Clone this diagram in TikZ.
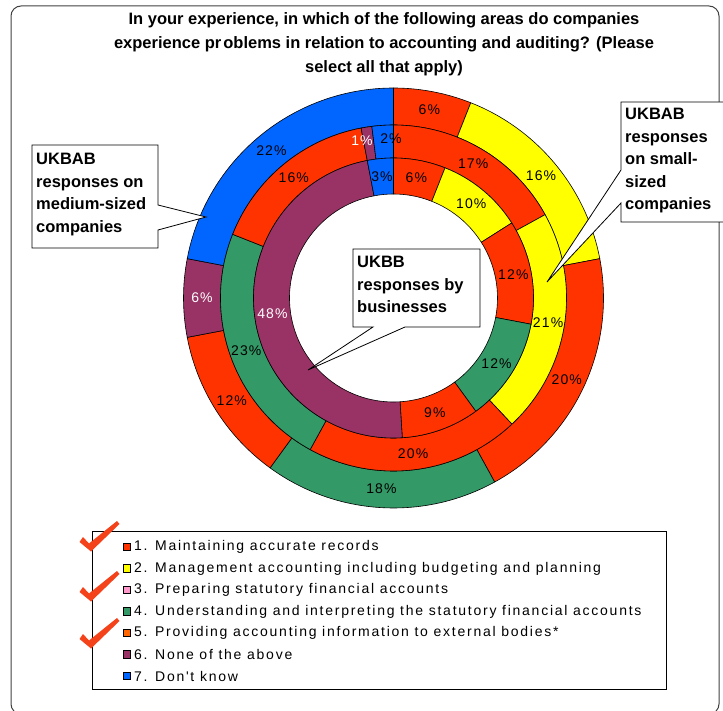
\documentclass[tikz,border=0pt]{standalone}
\usepackage{fontspec}
\setmainfont{Liberation Sans}
\newfontfamily\legfont[LetterSpace=12.5]{Liberation Sans}
\newfontfamily\pctfont[LetterSpace=8]{Liberation Sans}
\begin{document}
\begin{tikzpicture}[x=1pt,y=-1pt]
\definecolor{cRed}{HTML}{FF3300}
\definecolor{cYel}{HTML}{FFFF00}
\definecolor{cPink}{HTML}{FF99CC}
\definecolor{cGrn}{HTML}{339966}
\definecolor{cOrg}{HTML}{FF6600}
\definecolor{cPur}{HTML}{993366}
\definecolor{cBlu}{HTML}{0066FF}
\definecolor{cTick}{HTML}{F4431A}
\tikzset{
  seg/.style={draw=black, line width=0.6pt, line join=round},
  pct/.style={font=\pctfont\fontsize{14}{14}\selectfont, inner sep=0pt},
  callout/.style={fill=white, draw=black, line width=0.8pt, line join=miter},
  callouttext/.style={font=\bfseries\fontsize{16.5}{22.5}\selectfont, align=left, anchor=north west, inner sep=0pt},
  legtext/.style={font=\legfont\fontsize{14}{14}\selectfont, anchor=west, inner sep=0pt},
  legkey/.style={draw=black, line width=0.6pt, minimum size=7.5pt, inner sep=0pt},
  tickmark/.pic={\fill[cTick] (-7,-11) -- (-1,-4.5) -- (27,-27) -- (29.5,-24) -- (1,3.5) -- (-10.5,-6) -- cycle;},
}
% one slice of a ring: colour, inner radius, outer radius, start %, end %
\newcommand\ringpart[5]{%
  \filldraw[seg, fill=#1] ({#4*3.6-90}:#3) arc[start angle={#4*3.6-90}, end angle={#5*3.6-90}, radius=#3]
    -- ({#5*3.6-90}:#2) arc[start angle={#5*3.6-90}, end angle={#4*3.6-90}, radius=#2] -- cycle;}

\useasboundingbox (0,0) rectangle (723,711);
\begin{scope}
\clip (0,0) rectangle (723,711);
\draw[line width=1pt, draw=black!75, rounded corners=10pt] (11,6) rectangle (719,714);

% title
\node[font=\bfseries\fontsize{16.5}{24}\selectfont, align=center, inner sep=0pt] (title) at (384,44)
  {In your experience, in which of the following areas do companies\\
   experience pr\kern2pt oblems in relation to accounting and auditing? (Please\\
   select all that apply)};

% the three rings
\begin{scope}[shift={(393.5,298)}]
  % outer ring: medium-sized companies
  \foreach \c/\a/\b in {cRed/0/6, cYel/6/22, cRed/22/42, cGrn/42/60, cRed/60/72, cPur/72/78, cBlu/78/100}
    {\ringpart{\c}{173}{210}{\a}{\b}}
  % middle ring: small-sized companies
  \foreach \c/\a/\b in {cRed/0/17, cYel/17/38, cRed/38/58, cGrn/58/81, cRed/81/97, cPur/97/98, cBlu/98/100}
    {\ringpart{\c}{140}{173}{\a}{\b}}
  % inner ring: businesses
  \foreach \c/\a/\b in {cRed/0/6, cYel/6/16, cRed/16/28, cGrn/28/40, cRed/40/49, cPur/49/97, cBlu/97/100}
    {\ringpart{\c}{104}{140}{\a}{\b}}

  % slice labels
  \foreach \m/\t/\k in {3/6/black, 14/16/black, 32/20/black, 51/18/black, 66/12/black, 75/6/white, 89/22/black}
    {\node[pct, text=\k] at ({\m*3.6-90}:191.5) {\t\%};}
  \foreach \m/\t/\k in {8.5/17/black, 27.5/21/black, 48/20/black, 69.5/23/black, 89/16/black}
    {\node[pct, text=\k] at ({\m*3.6-90}:156.5) {\t\%};}
  \foreach \m/\t/\k in {3/6/black, 11/10/black, 22/12/black, 34/12/black, 44.5/9/black, 73/48/white, 98.5/3/black}
    {\node[pct, text=\k] at ({\m*3.6-90}:122) {\t\%};}
\end{scope}
\node[pct, text=white] (p1) at (362,141) {1\%};
\node[pct] (p2) at (391,139) {2\%};

% callouts
\draw[callout] (32,145) -- (158,145) -- (158,205) -- (206,217) -- (158,230) -- (158,248) -- (32,248) -- cycle;
\node[callouttext] (medium) at (36,153) {UKBAB\\responses on\\medium-sized\\companies};

\draw[callout] (621,102) -- (735,102) -- (735,222) -- (621,222) -- (621,203) -- (547,282) -- (621,170) -- cycle;
\node[callouttext] (small) at (625,108) {UKBAB\\responses\\on small-\\sized\\companies};

\draw[callout] (353,249) -- (480,249) -- (480,327) -- (405,327) -- (308,370) -- (373,327) -- (353,327) -- cycle;
\node[callouttext] (ukbb) at (357,256) {UKBB\\responses by\\businesses};

% legend
\draw[line width=0.8pt] (92,531) rectangle (666,689);
\foreach \i/\c/\t in {0/cRed/1. Maintaining accurate records,
                      1/cYel/2. Management accounting including budgeting and planning,
                      2/cPink/3. Preparing statutory financial accounts,
                      3/cGrn/4. Understanding and interpreting the statutory financial accounts,
                      4/cOrg/5. Providing accounting information to external bodies*,
                      5/cPur/6. None of the above,
                      6/cBlu/7. Don't know}
{
  \node[legkey, fill=\c] (key\i) at (127,{547+21.5*\i}) {};
  \node[legtext] (leg\i) at (134,{547+21.5*\i}) {\t};
}
\pic at (90,548) {tickmark};
\pic at (90,598) {tickmark};
\pic at (90,645) {tickmark};
\end{scope}
\end{tikzpicture}
\end{document}
